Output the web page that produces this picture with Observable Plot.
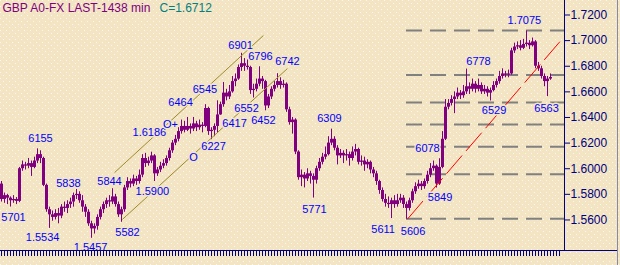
<!DOCTYPE html>
<html><head><meta charset="utf-8">
<script src="https://cdn.jsdelivr.net/npm/d3@7"></script>
<script src="https://cdn.jsdelivr.net/npm/@observablehq/plot@0.6"></script>
<style>
html,body{margin:0;padding:0;}
body{width:620px;height:265px;overflow:hidden;background-color:#F3E4C3;
background-image:url("data:image/svg+xml,%3Csvg xmlns='http://www.w3.org/2000/svg' width='6' height='6'%3E%3Crect x='0' y='0' width='1' height='1' fill='%23ffffff' fill-opacity='0.75'/%3E%3Crect x='3' y='3' width='1' height='1' fill='%23ffffff' fill-opacity='0.75'/%3E%3C/svg%3E");}
#chart svg{display:block;}
</style></head><body><div id="chart"></div><script>
// prices in 1/10000 above 1.0000 (e.g. 5760 = 1.5760)
const barOpen = [
5880,5760,5790,5770,5750,5760,5745,6000,6030,6020,
6040,6010,6060,6110,6080,5870,5680,5640,5620,5650,
5630,5700,5690,5720,5740,5790,5800,5750,5700,5660,
5570,5530,5550,5620,5680,5720,5750,5740,5780,5720,
5640,5680,5850,5900,5880,5920,5900,5950,6080,6040,
6060,6100,5960,5990,6020,6040,6080,6140,6200,6230,
6290,6330,6300,6330,6310,6350,6320,6340,6330,6470,
6290,6300,6330,6420,6500,6590,6560,6600,6680,6700,
6790,6820,6800,6790,6610,6620,6660,6700,6680,6490,
6560,6620,6650,6680,6650,6660,6460,6360,6380,6130,
5930,5950,5920,5960,5940,5910,6000,6050,6090,6110,
6200,6230,6160,6100,6120,6100,6110,6080,6130,6150,
6050,6060,6030,6050,5990,5960,5900,5830,5760,5730,
5720,5750,5720,5750,5770,5720,5690,5750,5820,5860,
5880,5860,5900,5950,6000,6020,5880,6010,6230,6480,
6510,6540,6560,6590,6570,6600,6640,6620,6660,6620,
6650,6600,6620,6590,6610,6650,6680,6720,6740,6730,
6740,6920,6950,6960,6940,6970,6980,6960,6990,6800,
6780,6720,6680,6700];
const barHigh = [
5900,5810,5800,5780,5790,5775,6010,6060,6050,6080,
6060,6090,6155,6140,6090,5880,5700,5670,5680,5690,
5720,5740,5750,5770,5810,5838,5820,5790,5720,5680,
5590,5570,5640,5700,5740,5770,5790,5844,5800,5740,
5700,5870,5930,5920,5950,5940,5990,6110,6120,6090,
6129,6110,6010,6050,6070,6100,6160,6220,6260,6320,
6380,6370,6400,6350,6400,6370,6380,6360,6500,6480,
6320,6350,6530,6520,6673,6620,6650,6720,6740,6810,
6901,6860,6850,6800,6660,6700,6796,6720,6690,6580,
6640,6680,6742,6710,6690,6670,6480,6400,6390,6140,
5990,5970,6000,5980,5960,6020,6080,6120,6170,6250,
6309,6250,6180,6150,6140,6150,6130,6170,6190,6160,
6100,6090,6070,6060,6010,5980,5910,5850,5800,5780,
5770,5790,5800,5800,5790,5740,5770,5840,5890,5910,
5900,5920,5980,6040,6060,6030,6078,6290,6540,6540,
6570,6600,6630,6610,6650,6778,6670,6700,6680,6700,
6670,6650,6640,6630,6680,6700,6760,6780,6760,6770,
6940,6980,6990,7000,7010,7075,7000,7020,7000,6830,
6800,6740,6720,6740];
const barLow = [
5740,5730,5720,5701,5730,5720,5735,5980,5990,6000,
5940,6000,6040,6040,5860,5660,5534,5590,5600,5570,
5610,5660,5650,5690,5700,5760,5730,5660,5620,5550,
5457,5490,5520,5600,5650,5690,5700,5720,5700,5620,
5582,5660,5830,5850,5860,5870,5880,5930,6010,6020,
6040,5900,5940,5970,6000,6020,6060,6120,6180,6210,
6270,6280,6290,6270,6290,6290,6300,6280,6320,6260,
6227,6250,6280,6417,6480,6530,6540,6590,6640,6690,
6760,6760,6770,6580,6552,6600,6640,6620,6452,6470,
6540,6600,6630,6620,6630,6440,6340,6270,6110,5910,
5860,5850,5900,5880,5771,5880,5980,6030,6070,6100,
6180,6140,6030,6080,6040,6060,6020,6060,6100,6030,
6020,5980,6000,5960,5930,5870,5800,5740,5700,5690,
5611,5690,5700,5730,5690,5606,5670,5730,5800,5840,
5830,5840,5880,5930,5980,5849,5870,6000,6220,6460,
6490,6430,6540,6540,6550,6580,6580,6600,6590,6600,
6580,6580,6560,6529,6600,6630,6660,6700,6710,6710,
6730,6900,6930,6920,6930,6950,6930,6950,6780,6760,
6700,6640,6563,6690];
const barClose = [
5760,5790,5770,5750,5760,5745,6000,6030,6020,6040,
6010,6060,6110,6080,5870,5680,5640,5620,5650,5630,
5700,5690,5720,5740,5790,5800,5750,5700,5660,5570,
5530,5550,5620,5680,5720,5750,5740,5780,5720,5640,
5680,5850,5900,5880,5920,5900,5950,6080,6040,6060,
6100,5960,5990,6020,6040,6080,6140,6200,6230,6290,
6330,6300,6330,6310,6350,6320,6340,6330,6470,6290,
6300,6330,6420,6500,6590,6560,6600,6680,6700,6790,
6820,6800,6790,6610,6620,6660,6700,6680,6490,6560,
6620,6650,6680,6650,6660,6460,6360,6380,6130,5930,
5950,5920,5960,5940,5910,6000,6050,6090,6110,6200,
6230,6160,6100,6120,6100,6110,6080,6130,6150,6050,
6060,6030,6050,5990,5960,5900,5830,5760,5730,5720,
5750,5720,5750,5770,5720,5690,5750,5820,5860,5880,
5860,5900,5950,6000,6020,5880,6010,6230,6480,6510,
6540,6560,6590,6570,6600,6640,6620,6660,6620,6650,
6600,6620,6590,6610,6650,6680,6720,6740,6730,6740,
6920,6950,6960,6940,6970,6980,6960,6990,6800,6780,
6720,6680,6700,6712];

const yTicks = [1.56, 1.58, 1.60, 1.62, 1.64, 1.66, 1.68, 1.70, 1.72];
const slotCount = 187;

// annotations: text, bar position, price level
const labelText  = ["6155","5838","5701","1.5534","1.5457","5844","5582","1.5900","1.6186","O+","O","6227","6464","6545","6417","6552","6901","6796","6452","6742","6309","5771","5611","5606","6078","5849","6778","6529","1.7075","6563"];
const labelBar   = [13,22.3,4,13.7,29.7,36,42,50.3,49.3,56.3,64,70.7,59.7,67.8,77.7,81.7,79.7,86.3,87.3,95.3,109.3,104.3,127.2,137.2,142,146.2,159,164.2,174.3,181.7];
const labelPrice = [1.6236,1.5885,1.5623,1.5463,1.5389,1.5904,1.5502,1.5826,1.6283,1.6345,1.6088,1.6170,1.6517,1.6615,1.6353,1.6474,1.6966,1.6876,1.6373,1.6837,1.6392,1.5682,1.5526,1.5514,1.6162,1.5775,1.6837,1.6454,1.7157,1.6474];

// channel lines (gold): start bar, start price, end bar, end price
const channelBar1 = [37.7, 40.3];
const channelP1   = [1.5970, 1.5604];
const channelBar2 = [87.3, 95.3];
const channelP2   = [1.7040, 1.6782];
// trend line (red)
const trendBar = [135.3, 187.3];
const trendP   = [1.5606, 1.7024];

// Fibonacci retracement between swing low and swing high
const swingLow = 1.5606, swingHigh = 1.7075, swingLowBar = 135;
const fibRatios = [0, 0.236, 0.382, 0.5, 0.618, 0.764, 1];

const titleText = "GBP A0-FX LAST-1438 min";
const closeText = "C=1.6712";

const P = v => 1 + v / 10000;
const bars = barClose.map((c, i) => ({i, o: P(barOpen[i]), h: P(barHigh[i]), l: P(barLow[i]), c: P(c)}));
const labels = labelText.map((t, k) => ({t, i: labelBar[k], p: labelPrice[k]}));
const channels = channelBar1.map((b, k) => ({i1: b, p1: channelP1[k], i2: channelBar2[k], p2: channelP2[k]}));
const trend = [{i1: trendBar[0], p1: trendP[0], i2: trendBar[1], p2: trendP[1]}];
const fibLevels = fibRatios.map(r => swingHigh - r * (swingHigh - swingLow));

const xMin = -1/3, xMax = slotCount + 1 - 1/3;
const yMin = 1.53616, yMax = 1.73132;
const navy = "#000080", purple = "#800080", blue = "#0000ff", bg = "#F3E4C3";
const font = "'Liberation Sans', Arial, sans-serif";

const chart = Plot.plot({
  width: 620, height: 265,
  marginLeft: 0, marginRight: 56, marginTop: 0, marginBottom: 15,
  style: {background: "transparent", fontFamily: font, fontSize: "12px", overflow: "visible"},
  x: {domain: [xMin, xMax], axis: null},
  y: {domain: [yMin, yMax], axis: null},
  marks: [
    Plot.ruleY(fibLevels, {x1: swingLowBar, x2: xMax, stroke: "#808080", strokeWidth: 2, dy: -0.5, strokeDasharray: "16,8"}),
    Plot.ruleX(bars, {x: "i", y1: "l", y2: "h", stroke: purple, strokeWidth: 1}),
    Plot.ruleX(bars, {x: "i", y1: "o", y2: "c", stroke: purple, strokeWidth: 3}),
    Plot.link(channels, {x1: "i1", y1: "p1", x2: "i2", y2: "p2", stroke: "#9c8a2c", strokeWidth: 1}),
    Plot.link(trend, {x1: "i1", y1: "p1", x2: "i2", y2: "p2", stroke: "#ff0000", strokeWidth: 1, strokeDasharray: "24,6"}),
    Plot.text(labels, {x: "i", y: "p", text: "t", fill: blue, fontSize: 11, stroke: bg, strokeWidth: 3}),
    Plot.ruleX([xMax], {stroke: navy}),
    Plot.ruleY([yMin], {stroke: navy}),
    Plot.axisY({ticks: yTicks, anchor: "right", tickSize: 5, tickPadding: 1, tickFormat: d3.format(".4f"), stroke: navy, fill: navy, fontSize: 12, label: null}),
    Plot.axisX({ticks: d3.range(slotCount), anchor: "bottom", tickSize: 6, tickFormat: () => "", stroke: navy, label: null}),
    Plot.text([titleText], {frameAnchor: "top-left", dx: 2, dy: 3, lineAnchor: "top", textAnchor: "start", fill: purple, fontSize: 12}),
    Plot.text([closeText], {frameAnchor: "top-left", dx: 159, dy: 3, lineAnchor: "top", textAnchor: "start", fill: "#008080", fontSize: 12})
  ]
});
document.getElementById("chart").appendChild(chart);

// frame decorations: bottom line continues to the right border, right border line
const sx = chart.scale("x"), sy = chart.scale("y");
const svg = d3.select(chart);
const yb = Math.round(sy.apply(yMin)) + 0.5;
svg.append("line").attr("x1", sx.apply(xMax)).attr("x2", 617).attr("y1", yb).attr("y2", yb).attr("stroke", navy);
svg.append("line").attr("x1", 617.5).attr("x2", 617.5).attr("y1", 0).attr("y2", 265).attr("stroke", "#8888a8");
</script></body></html>
